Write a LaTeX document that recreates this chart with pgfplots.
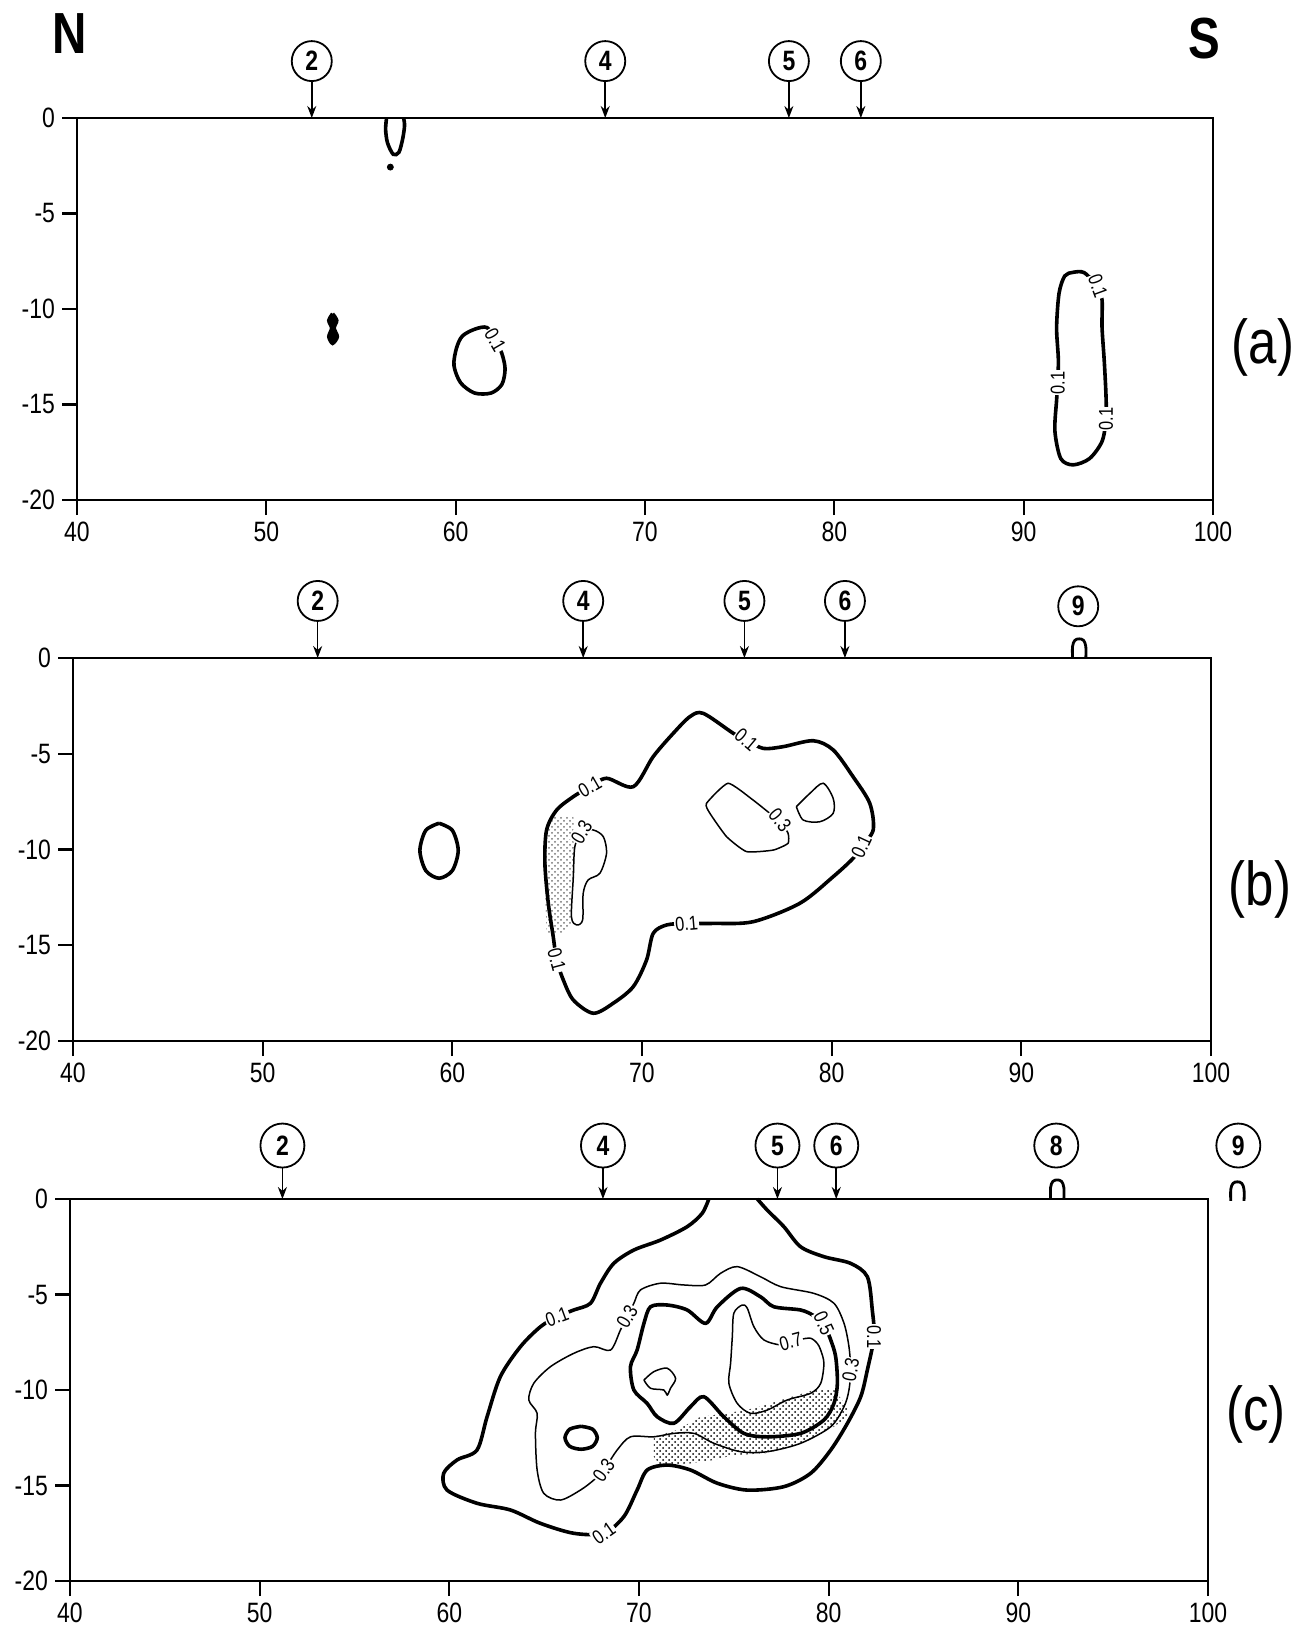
\documentclass[border=0pt]{standalone}
\usepackage{fontspec}
\setmainfont{Liberation Sans}[FakeStretch=0.82]
\usepackage{pgfplots}
\pgfplotsset{compat=1.18}
\usetikzlibrary{arrows.meta,patterns}
\pgfplotsset{
  panel/.style={scale only axis, xmin=40, xmax=100, ymin=-20, ymax=0,
    xtick={40,50,...,100}, ytick={-20,-15,...,0},
    tick align=outside, xtick pos=left, ytick pos=left,
    major tick length=7.5pt,
    axis line style={line width=1.2pt},
    every tick/.style={black, line width=1.1pt},
    tick label style={font=\fontsize{14}{16}\selectfont},
    /pgf/number format/assume math mode=true,
    clip=false, anchor=south west},
  c1/.style={black, line width=1.8pt, smooth, tension=0.5},
  c3/.style={black, line width=0.75pt, smooth, tension=0.5},
  arr/.style={black, line width=0.8pt, -{Stealth[length=6pt,width=4.5pt]}},
  cap/.style={black, line width=1.4pt, smooth, tension=0.6},
}
\tikzset{
  clab/.style={font=\fontsize{10}{11}\selectfont, fill=white, inner sep=0.5pt},
  stn/.style={circle, draw, line width=0.9pt, minimum size=20pt, inner sep=0pt, fill=white, font=\fontsize{14}{15}\selectfont\bfseries},
  stnc/.style={stn, minimum size=22pt},
}
\begin{document}
\begin{tikzpicture}
\useasboundingbox (0pt,0pt) rectangle (647pt,-815.5pt);
\node[font=\fontsize{29}{30}\selectfont\bfseries] at (35pt,-17pt) {N};
\node[font=\fontsize{29}{30}\selectfont\bfseries] at (602pt,-19.5pt) {S};

% ---------------- panel (a)
\begin{axis}[panel, at={(38.5pt,-250pt)}, width=568pt, height=191pt]
\addplot[arr] coordinates {(52.4,1.93) (52.4,0)};
\addplot[arr] coordinates {(67.9,1.93) (67.9,0)};
\addplot[arr] coordinates {(77.6,1.93) (77.6,0)};
\addplot[arr] coordinates {(81.4,1.93) (81.4,0)};
\node[stn] at (axis cs:52.4,2.98) {2};
\node[stn] at (axis cs:67.9,2.98) {4};
\node[stn] at (axis cs:77.6,2.98) {5};
\node[stn] at (axis cs:81.4,2.98) {6};
% contours
\addplot[c1] coordinates {(56.35,0)(56.3,-0.6)(56.4,-1.3)(56.7,-1.9)(57.0,-1.8)(57.2,-1.1)(57.3,-0.4)(57.25,0)};
\addplot[only marks, mark=*, mark size=1.5pt, black] coordinates {(56.55,-2.57)};
\addplot[c1, fill=black] coordinates {(53.5,-10.25)(53.72,-10.6)(53.58,-11.0)(53.75,-11.45)(53.5,-11.8)(53.3,-11.45)(53.45,-11.0)(53.3,-10.6)(53.5,-10.25)};
\addplot[c1] coordinates {(62.09,-11.61)(62.44,-12.33)(62.61,-13.14)(62.44,-13.95)(61.87,-14.40)(61.00,-14.40)(60.26,-13.86)(59.91,-12.96)(60.04,-12.06)(60.35,-11.42)(61.0,-11.06)(61.65,-10.97)(62.09,-11.61)};
\addplot[c1] coordinates {(93.92,-8.81)(94.14,-9.53)(94.14,-10.97)(94.26,-12.78)(94.35,-14.58)(94.35,-15.76)(94.14,-16.93)(93.48,-17.83)(92.61,-18.16)(91.96,-17.83)(91.65,-16.39)(91.74,-14.76)(91.8,-13.86)(91.83,-12.60)(91.74,-10.97)(91.87,-9.17)(92.17,-8.27)(92.61,-8.08)(93.2,-8.1)(93.92,-8.81)};
\node[clab, rotate=-60] at (axis cs:62.09,-11.61) {0.1};
\node[clab, rotate=-70] at (axis cs:93.92,-8.81) {0.1};
\node[clab, rotate=90] at (axis cs:94.35,-15.76) {0.1};
\node[clab, rotate=90] at (axis cs:91.8,-13.86) {0.1};
\end{axis}
\node[font=\fontsize{31}{33}\selectfont] at (631.5pt,-173.5pt) {(a)};

% ---------------- panel (b)
\begin{axis}[panel, at={(36.5pt,-520.5pt)}, width=569pt, height=191.5pt]
\addplot[arr] coordinates {(52.9,1.93) (52.9,0)};
\addplot[arr] coordinates {(66.9,1.93) (66.9,0)};
\addplot[arr] coordinates {(75.4,1.93) (75.4,0)};
\addplot[arr] coordinates {(80.7,1.93) (80.7,0)};
\addplot[cap] coordinates {(92.7,0)(92.7,0.6)(92.82,0.92)(93.05,1.0)(93.28,0.92)(93.4,0.6)(93.4,0)};
\node[stn] at (axis cs:52.9,2.98) {2};
\node[stn] at (axis cs:66.9,2.98) {4};
\node[stn] at (axis cs:75.4,2.98) {5};
\node[stn] at (axis cs:80.7,2.98) {6};
\node[stn] at (axis cs:93.0,2.7) {9};
% stipple
\addplot[draw=none, pattern=crosshatch dots, pattern color=black!55] coordinates {(65.14,-8.29)(66.38,-8.29)(66.46,-9.85)(66.28,-13.86)(65.85,-14.38)(64.97,-14.38)(64.88,-11.76)(64.97,-9.33)(65.14,-8.29)};
% ellipse
\addplot[c1] coordinates {(59.3,-8.63)(60.0,-9.0)(60.31,-10.05)(60.0,-11.1)(59.3,-11.5)(58.6,-11.1)(58.29,-10.05)(58.6,-9.0)(59.3,-8.63)};
% main 0.1
\addplot[c1] coordinates {(67.25,-6.72)(68.13,-6.28)(69.54,-6.72)(70.59,-5.15)(71.65,-3.93)(72.53,-3.06)(73.23,-2.89)(74.81,-3.93)(75.5,-4.28)(76.39,-4.72)(77.44,-4.63)(79.03,-4.32)(80.08,-4.80)(81.13,-6.20)(82.01,-7.59)(82.19,-8.98)(81.57,-9.85)(81.13,-10.46)(80.08,-11.42)(78.32,-12.81)(75.86,-13.77)(73.75,-13.86)(72.35,-13.86)(71.30,-13.94)(70.59,-14.38)(70.24,-15.77)(69.54,-17.16)(68.48,-18.03)(67.43,-18.55)(66.38,-17.86)(65.85,-16.81)(65.50,-15.77)(65.32,-14.55)(65.06,-12.81)(64.88,-10.72)(64.97,-8.98)(65.50,-7.94)(66.38,-7.24)(67.25,-6.72)};
% 0.3 left
\addplot[c3] coordinates {(66.81,-9.07)(66.46,-9.85)(66.38,-11.42)(66.28,-13.51)(66.55,-13.94)(66.87,-13.68)(66.90,-12.29)(67.16,-11.59)(67.78,-11.24)(68.13,-10.20)(67.96,-9.33)(67.43,-8.98)(66.81,-9.07)};
% 0.3 right
\addplot[c3, tension=0.3] coordinates {(77.27,-8.46)(77.70,-9.15)(77.70,-9.68)(76.92,-10.03)(75.51,-10.11)(74.46,-9.33)(73.58,-8.11)(73.40,-7.59)(74.54,-6.54)(75.86,-7.42)(76.74,-8.11)(77.27,-8.46)};
\addplot[c3] coordinates {(78.14,-7.76)(78.85,-7.07)(79.55,-6.54)(80.08,-7.33)(80.08,-8.11)(79.38,-8.55)(78.50,-8.46)(78.14,-7.76)};
\node[clab, rotate=30] at (axis cs:67.25,-6.72) {0.1};
\node[clab, rotate=-40] at (axis cs:75.5,-4.28) {0.1};
\node[clab, rotate=65] at (axis cs:81.57,-9.85) {0.1};
\node[clab, rotate=5] at (axis cs:72.35,-13.86) {0.1};
\node[clab, rotate=-75] at (axis cs:65.50,-15.77) {0.1};
\node[clab, rotate=60] at (axis cs:66.81,-9.07) {0.3};
\node[clab, rotate=-50] at (axis cs:77.27,-8.46) {0.3};
\end{axis}
\node[font=\fontsize{31}{33}\selectfont] at (630pt,-444.5pt) {(b)};

% ---------------- panel (c)
\begin{axis}[panel, at={(35pt,-790.5pt)}, width=569pt, height=191pt]
\addplot[arr] coordinates {(51.2,1.7) (51.2,0)};
\addplot[arr] coordinates {(68.1,1.7) (68.1,0)};
\addplot[arr] coordinates {(77.3,1.7) (77.3,0)};
\addplot[arr] coordinates {(80.4,1.7) (80.4,0)};
\addplot[cap] coordinates {(91.7,0)(91.7,0.6)(91.82,0.92)(92.05,1.0)(92.28,0.92)(92.4,0.6)(92.4,0)};
\addplot[cap] coordinates {(101.2,-0.1)(101.2,0.5)(101.32,0.82)(101.55,0.9)(101.78,0.82)(101.9,0.5)(101.9,-0.1)};
\node[stnc] at (axis cs:51.2,2.8) {2};
\node[stnc] at (axis cs:68.1,2.8) {4};
\node[stnc] at (axis cs:77.3,2.8) {5};
\node[stnc] at (axis cs:80.4,2.8) {6};
\node[stnc] at (axis cs:92.0,2.8) {8};
\node[stnc] at (axis cs:101.6,2.8) {9};
% stipple
\addplot[draw=none, pattern=crosshatch dots, pattern color=black] coordinates {(70.78,-12.45)(72.01,-12.09)(73.25,-11.40)(74.65,-11.22)(76.06,-10.96)(77.82,-10.43)(79.22,-10.00)(80.28,-10.00)(80.99,-10.87)(80.99,-11.40)(80.28,-11.92)(78.52,-12.79)(76.76,-13.31)(75.0,-13.40)(73.95,-13.66)(72.72,-13.84)(71.13,-13.93)(70.78,-13.49)(70.78,-12.45)};
% 0.1
\addplot[c1] coordinates {(73.68,0)(73.33,-0.75)(72.54,-1.45)(71.13,-2.15)(69.73,-2.67)(68.67,-3.37)(67.97,-4.41)(67.44,-5.46)(66.56,-5.81)(65.68,-6.16)(64.80,-6.69)(63.75,-7.73)(62.69,-9.30)(61.99,-11.40)(61.46,-13.14)(60.41,-13.66)(59.70,-14.36)(59.88,-15.24)(61.46,-15.93)(63.22,-16.28)(64.80,-16.98)(66.56,-17.50)(68.14,-17.50)(69.20,-16.63)(69.90,-15.24)(70.43,-14.19)(71.49,-13.93)(72.72,-14.19)(74.13,-14.88)(75.71,-15.24)(77.64,-15.06)(79.05,-14.36)(80.11,-13.14)(80.99,-11.74)(81.69,-10.35)(82.04,-8.95)(82.39,-7.21)(82.30,-5.81)(82.04,-4.07)(81.16,-3.37)(79.75,-3.02)(78.52,-2.50)(77.64,-1.45)(76.76,-0.58)(76.24,0)};
% 0.3
\addplot[c3] coordinates {(69.37,-6.16)(69.73,-5.46)(70.08,-4.76)(71.13,-4.41)(72.36,-4.50)(73.51,-4.50)(74.30,-3.89)(75.18,-3.54)(76.41,-4.07)(77.47,-4.59)(79.22,-4.94)(80.28,-5.46)(80.81,-6.51)(81.07,-7.73)(81.16,-8.95)(81.07,-10.00)(80.81,-10.87)(80.11,-11.92)(78.52,-12.79)(76.76,-13.23)(75.36,-13.23)(73.95,-12.79)(72.90,-12.27)(71.84,-12.27)(70.78,-12.45)(69.55,-12.45)(68.85,-13.14)(68.14,-14.19)(67.62,-14.71)(66.91,-15.24)(65.86,-15.76)(64.98,-15.41)(64.63,-14.19)(64.54,-12.27)(64.63,-11.22)(64.19,-10.52)(64.45,-9.65)(65.33,-8.78)(66.56,-8.08)(67.62,-7.73)(68.50,-7.91)(69.02,-6.86)(69.37,-6.16)};
% 0.5
\addplot[c1] coordinates {(79.75,-6.51)(80.11,-7.38)(80.37,-8.26)(80.46,-9.65)(80.28,-10.70)(79.75,-11.57)(78.52,-12.27)(76.76,-12.45)(75.53,-12.27)(74.47,-11.40)(73.42,-10.35)(72.72,-10.87)(71.84,-11.74)(70.96,-11.40)(70.43,-10.70)(69.73,-10.00)(69.55,-8.78)(69.90,-7.91)(70.26,-6.51)(70.61,-5.64)(71.49,-5.55)(72.54,-5.81)(73.51,-6.51)(74.13,-5.64)(75.36,-4.68)(76.41,-5.12)(77.11,-5.64)(78.52,-5.81)(79.2,-6.1)(79.75,-6.51)};
% 0.7
\addplot[c3] coordinates {(78.0,-7.47)(77.47,-7.64)(76.59,-7.38)(76.06,-6.69)(75.71,-5.72)(75.44,-5.55)(75.00,-5.98)(74.92,-7.21)(74.83,-8.60)(74.74,-9.65)(75.18,-10.70)(75.88,-11.22)(76.76,-11.05)(77.82,-10.52)(79.05,-10.17)(79.58,-9.65)(79.75,-8.60)(79.58,-7.91)(79.40,-7.56)(79.05,-7.29)(78.5,-7.35)(78.0,-7.47)};
\addplot[c3] coordinates {(70.26,-9.48)(70.78,-9.04)(71.49,-8.86)(71.93,-9.39)(71.66,-9.91)(71.49,-10.26)(71.31,-10.00)(70.61,-9.91)(70.26,-9.48)};
% small thick ellipse
\addplot[c1] coordinates {(66.95,-11.9)(67.55,-12.05)(67.8,-12.5)(67.55,-12.95)(66.95,-13.1)(66.35,-12.95)(66.1,-12.5)(66.35,-12.05)(66.95,-11.9)};
\node[clab, rotate=20] at (axis cs:65.68,-6.16) {0.1};
\node[clab, rotate=35] at (axis cs:68.14,-17.50) {0.1};
\node[clab, rotate=-90] at (axis cs:82.39,-7.21) {0.1};
\node[clab, rotate=60] at (axis cs:69.37,-6.16) {0.3};
\node[clab, rotate=80] at (axis cs:81.16,-8.95) {0.3};
\node[clab, rotate=55] at (axis cs:68.14,-14.19) {0.3};
\node[clab, rotate=-65] at (axis cs:79.75,-6.51) {0.5};
\node[clab, rotate=15] at (axis cs:78.0,-7.47) {0.7};
\end{axis}
\node[font=\fontsize{31}{33}\selectfont] at (628pt,-707pt) {(c)};
\end{tikzpicture}
\end{document}
